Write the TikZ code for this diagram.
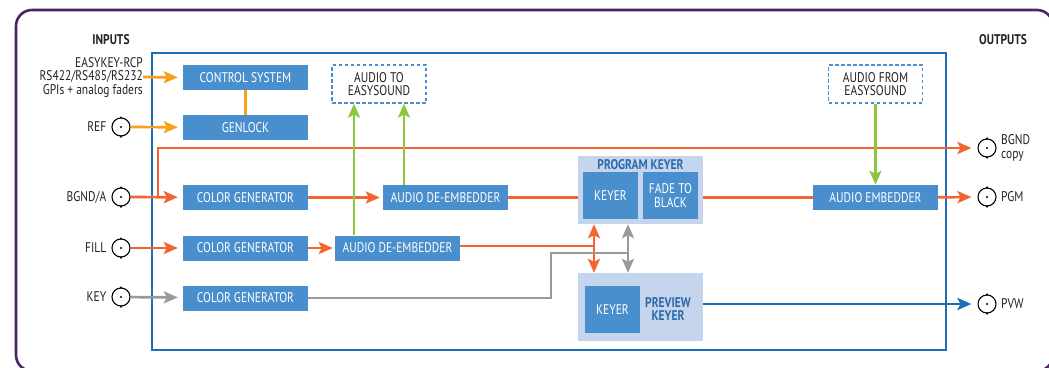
\documentclass[tikz,border=0pt]{standalone}
\usepackage{fontspec}
\setmainfont{PT Sans}[FakeStretch=0.82]
\usetikzlibrary{arrows.meta}
\definecolor{boxblue}{HTML}{4A8FCD}
\definecolor{lightkey}{HTML}{C6D5EE}
\definecolor{orr}{HTML}{F26430}
\definecolor{amber}{HTML}{F7A11A}
\definecolor{gry}{HTML}{9A9A9A}
\definecolor{grn}{HTML}{8DC63F}
\definecolor{lblue}{HTML}{1B6DB8}
\definecolor{klabel}{HTML}{2B6BAA}
\definecolor{frame}{HTML}{4B2462}
\definecolor{txt}{HTML}{222222}
\tikzset{
  tf/.style={font=\fontsize{14}{13.5}\selectfont},
  tfb/.style={font=\fontsize{14}{13.5}\selectfont\bfseries},
  box/.style={tf, fill=boxblue, text=white, minimum width=125pt, minimum height=25pt, inner sep=0pt},
  kbox/.style={tf, fill=boxblue, text=white, minimum width=55pt, minimum height=47pt, inner sep=0pt, align=center},
  kbg/.style={fill=lightkey, minimum width=125pt, minimum height=68pt, inner sep=0pt},
  dbox/.style={tf, draw=boxblue, line width=1.3pt, dash pattern=on 3.5pt off 2.5pt, minimum width=94pt, minimum height=38pt, inner sep=0pt, align=center, text=txt},
  bnc/.style={circle, draw=black, line width=1.1pt, minimum size=18pt, inner sep=0pt,
    path picture={\fill (path picture bounding box.center) circle (1.1pt);}},
  lab/.style={tf, text=txt, inner sep=0pt},
  ln/.style={line width=2.7pt},
  arr/.style={-{Stealth[length=14pt,width=12pt,inset=3pt]}},
  darr/.style={{Stealth[length=14pt,width=12pt,inset=3pt]}-{Stealth[length=14pt,width=12pt,inset=3pt]}},
}
\begin{document}
\begin{tikzpicture}[x=1pt,y=-1pt]
\useasboundingbox (0,0) rectangle (1049,367);
\clip (0,0) rectangle (1049,367);
% frames
\draw[frame, line width=2.6pt, rounded corners=16pt] (16,10) rectangle (1053,371);
\draw[lblue, line width=1.6pt] (152,53) rectangle (946,350);
% headings
\node[lab, tfb] (inputs) at (111,40) {INPUTS};
\node[lab, tfb] (outputs) at (1003,40) {OUTPUTS};
% boxes
\node[box] (cs) at (245.5,77.5) {CONTROL SYSTEM};
\node[box] (gen) at (245.5,127.5) {GENLOCK};
\node[box] (cg1) at (245.5,197.5) {COLOR GENERATOR};
\node[box] (cg2) at (245.5,248) {COLOR GENERATOR};
\node[box] (cg3) at (245.5,298) {COLOR GENERATOR};
\node[box] (ade1) at (445.5,197.5) {AUDIO DE-EMBEDDER};
\node[box] (ade2) at (397.5,248) {AUDIO DE-EMBEDDER};
\node[box] (ae) at (875.5,197.5) {AUDIO EMBEDDER};
\node[dbox] (ate) at (379,84) {AUDIO TO\\EASYSOUND};
\node[dbox] (afe) at (875.5,84) {AUDIO FROM\\EASYSOUND};
% keyers
\node[kbg] (pk) at (640.5,190) {};
\node[lab, tfb, text=klabel] (pkl) at (640.5,165) {PROGRAM KEYER};
\node[kbox] (k1) at (610.5,195.5) {KEYER};
\node[kbox] (ftb) at (670.5,195.5) {FADE TO\\BLACK};
\node[kbg] (pvk) at (640.5,307) {};
\node[kbox] (k2) at (612.5,309.5) {KEYER};
\node[lab, tfb, text=klabel, align=center] (pvkl) at (668,309) {PREVIEW\\KEYER};
% connectors
\node[bnc] (ref) at (121,127) {};
\node[bnc] (bgnd) at (121,197) {};
\node[bnc] (fill) at (121,248) {};
\node[bnc] (key) at (121,297) {};
\node[bnc] (bgndc) at (987,148) {};
\node[bnc] (pgm) at (987,197) {};
\node[bnc] (pvw) at (987,304) {};
\foreach \n in {ref,bgnd,fill,key,bgndc,pgm,pvw}{
  \fill (\n.north) circle (1.2pt); \fill (\n.south) circle (1.2pt);
}
% labels
\node[lab, anchor=east, align=right] (ctl) at (143,77) {EASYKEY-RCP\\RS422/RS485/RS232\\GPIs + analog faders};
\node[lab, anchor=east] (refl) at (106.5,127) {REF};
\node[lab, anchor=east] (bgndl) at (106.5,197) {BGND/A};
\node[lab, anchor=east] (filll) at (106.5,248) {FILL};
\node[lab, anchor=east] (keyl) at (106.5,297) {KEY};
\node[lab, anchor=west, align=left] (bgndcl) at (1001,148) {BGND\\copy};
\node[lab, anchor=west] (pgml) at (1001,197) {PGM};
\node[lab, anchor=west] (pvwl) at (1001,304) {PVW};
% coordinates
\coordinate (br) at (158,197);
\coordinate (ox) at (594,246);
\coordinate (gx1) at (551,253);
\coordinate (gx2) at (628,253);
% amber
\draw[amber, ln] (cs) -- (gen);
\draw[amber, ln, arr, shorten >=5pt] (ctl.east) -- (cs.west);
\draw[amber, ln, arr, shorten >=5pt] (ref) -- (gen);
% orange
\draw[orr, ln, arr, shorten >=5pt] (bgnd) -- (cg1);
\draw[orr, ln, arr, shorten >=6pt] (br) |- (bgndc);
\draw[orr, ln, arr, shorten >=3pt] (cg1) -- (ade1);
\draw[orr, ln] (ade1) -- (ade1.east -| pk.west);
\draw[orr, ln] (pk.east |- ae.west) -- (ae.west);
\draw[orr, ln, arr, shorten >=6pt] (ae) -- (pgm);
\draw[orr, ln, arr, shorten >=5pt] (fill) -- (cg2);
\draw[orr, ln, arr, shorten >=2pt] (cg2) -- (ade2);
\draw[orr, ln] (ade2.east |- ox) -- (ox);
\draw[orr, ln, darr] (pk.south -| ox) -- (pvk.north -| ox);
% gray
\draw[gry, ln, arr, shorten >=5pt] (key) -- (cg3);
\draw[gry, ln] (cg3.east) -| (gx1) -- (gx2);
\draw[gry, ln, darr] (pk.south -| gx2) -- (pvk.north -| gx2);
% green
\draw[grn, ln, arr] ([xshift=-43.5pt]ade2.north) -- ([xshift=-43.5pt]ade2.north |- ate.south);
\draw[grn, ln, arr] ([xshift=-41.5pt]ade1.north) -- ([xshift=-41.5pt]ade1.north |- ate.south);
\draw[grn, ln, arr] (afe) -- (ae);
% blue
\draw[lblue, ln, arr, shorten >=6pt] (pvk.east |- pvw) -- (pvw);
\end{tikzpicture}
\end{document}
